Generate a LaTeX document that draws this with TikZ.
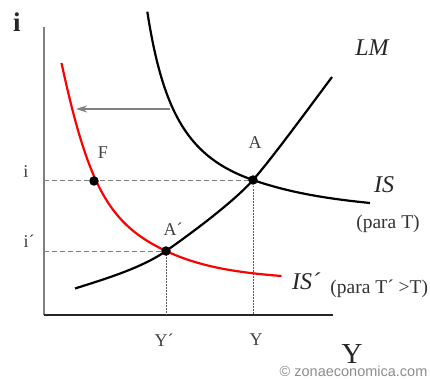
\documentclass[tikz,border=0pt]{standalone}
\usepackage{fontspec}
\setmainfont{Liberation Serif}
\newfontfamily\credfont{Liberation Sans}
\usetikzlibrary{arrows.meta}

\begin{document}
\begin{tikzpicture}[x=1pt, y=-1pt, >={Stealth[length=11pt,width=7pt]}, line width=2.2pt]
        \useasboundingbox (0,0) rectangle (430,379);
        \tikzset{
            guide/.style={gray, line width=0.9pt, dash pattern=on 5pt off 3pt},
            drop/.style={gray!70!black, line width=0.9pt, dash pattern=on 1.5pt off 1.5pt},
            eqdot/.style={circle, fill=black, inner sep=0pt, minimum size=9.5pt},
            lbl/.style={text=black!75, font=\fontsize{18}{21}\selectfont},
            notelbl/.style={text=black!80, font=\fontsize{19.5}{22}\selectfont},
            curvelbl/.style={text=black!85, font=\fontsize{24}{28}\selectfont\itshape},
        }

        % ====================
        % 1. Axes
        % ====================
        \coordinate (O) at (44,315);
        \coordinate (ytop) at (44,27);
        \coordinate (xend) at (333,315);
        \draw[gray, line width=1.8pt] (O) -- (ytop);
        \draw[black!85, line width=2.4pt] (O) -- (xend);
        \node[font=\fontsize{27}{30}\selectfont\bfseries, text=black!85] (ilabel) at (17,22) {i};
        \node[font=\fontsize{29}{32}\selectfont, text=black!85, inner sep=1pt] (Ylabel) at (352,354) {Y};

        % ====================
        % 2. Equilibrium points
        % ====================
        \coordinate (A) at (253,180);
        \coordinate (A2) at (166,251);
        \coordinate (F) at (94,181);

        \draw[guide] (A -| O) -- (A);
        \draw[guide] (A2 -| O) -- (A2);
        \draw[drop] (A) -- (A |- O);
        \draw[drop] (A2) -- (A2 |- O);

        % ====================
        % 3. Curves
        % ====================
        % LM
        \draw[black] (75,288.5) .. controls (103.6,279.4) and (141.4,268.2) .. (A2)
            .. controls (189.8,234.4) and (233.9,201.8) .. (A)
            .. controls (272.8,157.5) and (314,101) .. (332,77);
        % IS (para T)
        \draw[black] (147.3,11.7) .. controls (163.5,115.9) and (190,158) .. (A)
            .. controls (290.8,193.2) and (330.2,199) .. (370,203);
        % IS' (para T' > T)
        \draw[red] (61.5,63) .. controls (88.3,186.8) and (109.2,224.2) .. (A2)
            .. controls (202.2,268) and (241.6,272.8) .. (281.5,276);

        % shift of IS
        \coordinate (shiftstart) at (170,109);
        \coordinate (shiftend) at (76,109);
        \draw[->, gray, line width=1.6pt] (shiftstart) -- (shiftend);

        \node[eqdot] (dotA) at (A) {};
        \node[eqdot] (dotA2) at (A2) {};
        \node[eqdot] (dotF) at (F) {};

        % ====================
        % 4. Labels
        % ====================
        \node[lbl] (Alabel) at (255,143) {A};
        \node[lbl] (A2label) at (173,229) {A´};
        \node[lbl] (Flabel) at (103,153) {F};
        \node[lbl] (itick) at (26,172) {i};
        \node[lbl] (i2tick) at (29,241) {i´};
        \node[lbl] (Ytick) at (256,340) {Y};
        \node[lbl] (Y2tick) at (164,340) {Y´};

        \node[curvelbl] (LMlabel) at (372,48) {LM};
        \node[curvelbl] (ISlabel) at (384,185) {IS};
        \node[notelbl] (ISnote) at (388,224) {(para T)};
        \node[curvelbl] (IS2label) at (306,281) {IS´};
        \node[notelbl, right] (IS2note) at (326,289) {(para T´ >T)};

        \node[left, inner sep=0.5pt, text=gray!90, font=\credfont\fontsize{14.5}{16}\selectfont] (credit) at (429,371) {© zonaeconomica.com};

    \end{tikzpicture}
\end{document}
